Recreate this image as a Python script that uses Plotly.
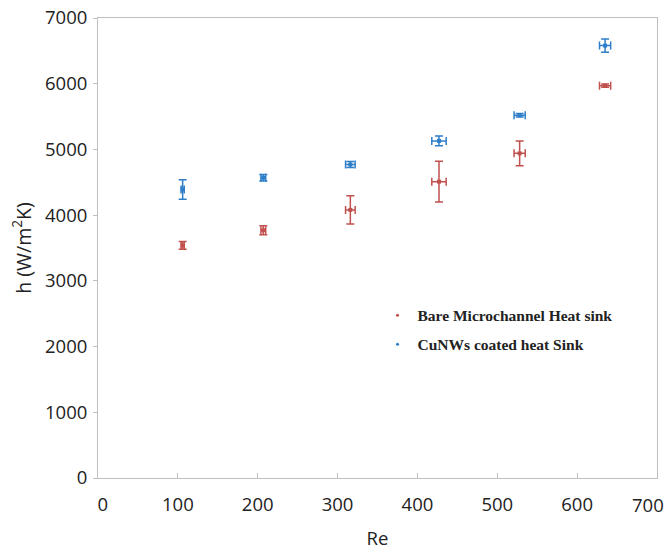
import plotly.graph_objects as go

re_vals = [106, 207, 316, 427, 528, 635]
re_err = [2, 3, 6, 9, 7, 7]

bare_h = [3540, 3770, 4080, 4510, 4940, 5970]
bare_err = [60, 70, 215, 310, 190, 25]

cunw_h = [4390, 4570, 4770, 5130, 5520, 6580]
cunw_err = [150, 50, 45, 75, 25, 100]

x_ticks = [0, 100, 200, 300, 400, 500, 600]
x_labels = ["\u00a0\u00a00", "100", "200", "300", "400", "500", "600"]
x_last = 700
y_ticks = [0, 1000, 2000, 3000, 4000, 5000, 6000, 7000]

red = "#C0504D"
blue = "#2E7EC9"

fig = go.Figure()
fig.add_trace(go.Scatter(
    x=re_vals, y=bare_h, mode="markers", showlegend=False,
    marker=dict(symbol="square", size=4, color=red),
    error_y=dict(type="data", array=bare_err, color=red, thickness=1.5, width=4),
    error_x=dict(type="data", array=re_err, color=red, thickness=1.5, width=4),
))
fig.add_trace(go.Scatter(
    x=re_vals, y=cunw_h, mode="markers", showlegend=False,
    marker=dict(symbol="square", size=4, color=blue),
    error_y=dict(type="data", array=cunw_err, color=blue, thickness=1.5, width=4),
    error_x=dict(type="data", array=re_err, color=blue, thickness=1.5, width=4),
))
# legend-only entries with tiny markers
fig.add_trace(go.Scatter(
    x=[None], y=[None], mode="markers", name="<b>Bare Microchannel Heat sink</b>",
    legendgroup="a", marker=dict(symbol="circle", size=3, color=red)))
fig.add_trace(go.Scatter(
    x=[None], y=[None], mode="markers", name="<b>CuNWs coated heat Sink</b>",
    legendgroup="b", marker=dict(symbol="circle", size=3, color=blue)))

axis_font = dict(family="Open Sans, Carlito, sans-serif", size=18.5, color="#222")
fig.update_layout(
    width=669, height=550,
    margin=dict(l=98, r=12, t=18, b=72),
    paper_bgcolor="white", plot_bgcolor="white",
    showlegend=True,
    legend=dict(x=0.50, y=0.39, xanchor="left", yanchor="top",
                font=dict(family="Liberation Serif, Times New Roman, serif", size=15.5, color="#222"),
                bgcolor="rgba(0,0,0,0)", itemsizing="trace", tracegroupgap=6,
                itemwidth=30),
    xaxis=dict(range=[0, 700], tickvals=x_ticks + [x_last], ticktext=x_labels + [""],
               showgrid=False, zeroline=False, automargin=False,
               showline=True, linecolor="#BFBFBF", mirror=True, linewidth=1,
               ticks="inside", ticklen=5, tickcolor="#BFBFBF",
               tickfont=axis_font, ticklabelstandoff=10,
               title=dict(text="Re", font=axis_font, standoff=30)),
    yaxis=dict(range=[0, 7000], tickvals=y_ticks, ticktext=[str(v) for v in y_ticks],
               showgrid=False, zeroline=False, automargin=False,
               showline=True, linecolor="#BFBFBF", mirror=True, linewidth=1,
               ticks="outside", ticklen=4, tickcolor="#BFBFBF",
               tickfont=axis_font, ticklabelstandoff=2, ticklabeloverflow="allow",
               title=dict(text="h (W/m<sup>2</sup>K)", font=dict(axis_font, size=19.5), standoff=8)),
)
# last x tick label, kept inside the page like the reference
fig.add_annotation(x=x_last, xref="x", y=0, yref="paper", text=str(x_last),
                   showarrow=False, xanchor="right", yanchor="top",
                   xshift=9, yshift=-12, font=axis_font)

fig.write_html("out.html")
